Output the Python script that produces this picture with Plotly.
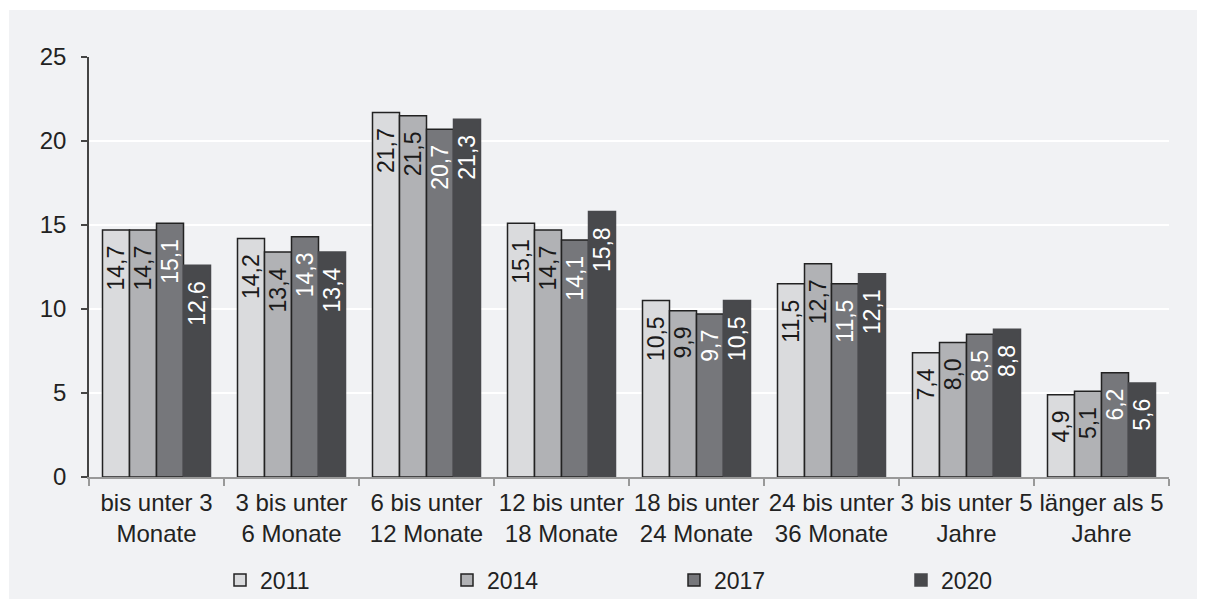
import plotly.graph_objects as go

categories = [
    "bis unter 3<br>Monate",
    "3 bis unter<br>6 Monate",
    "6 bis unter<br>12 Monate",
    "12 bis unter<br>18 Monate",
    "18 bis unter<br>24 Monate",
    "24 bis unter<br>36 Monate",
    "3 bis unter 5<br>Jahre",
    "länger als 5<br>Jahre",
]
years = ["2011", "2014", "2017", "2020"]
v2011 = [14.7, 14.2, 21.7, 15.1, 10.5, 11.5, 7.4, 4.9]
v2014 = [14.7, 13.4, 21.5, 14.7, 9.9, 12.7, 8.0, 5.1]
v2017 = [15.1, 14.3, 20.7, 14.1, 9.7, 11.5, 8.5, 6.2]
v2020 = [12.6, 13.4, 21.3, 15.8, 10.5, 12.1, 8.8, 5.6]
series = [v2011, v2014, v2017, v2020]
y_ticks = [0, 5, 10, 15, 20, 25]

fills = ["#dadbdd", "#b1b2b5", "#76777b", "#48494c"]
text_colors = ["#1a1a1a", "#1a1a1a", "#ffffff", "#ffffff"]
line_colors = ["#222222", "#222222", "#222222", "#48494c"]

FONT = "Liberation Sans, Arial, sans-serif"

# page body adds an 8px offset; figure is sized to fill the rest of the window
W, H = 1197, 591
L, R, T, B = 81, 36, 49, 122
PW, PH = W - L - R, H - T - B

fig = go.Figure()
for name, vals, fc, tc, lc in zip(years, series, fills, text_colors, line_colors):
    fig.add_trace(go.Bar(
        x=categories, y=vals, name=name,
        marker=dict(color=fc, line=dict(color=lc, width=1.5)),
        texttemplate="%{y:.1f}\u00a0\u00a0",
        textposition="inside",
        insidetextanchor="end",
        textangle=-90,
        constraintext="none",
        textfont=dict(family=FONT, size=23, color=tc),
        hoverinfo="skip",
    ))

fig.update_layout(
    width=W, height=H,
    margin=dict(l=L, r=R, t=T, b=B, autoexpand=False),
    paper_bgcolor="#ffffff",
    plot_bgcolor="#f1f2f4",
    separators=",.",
    barmode="group",
    bargap=0.2,
    bargroupgap=0,
    font=dict(family=FONT, size=23, color="#222222"),
    showlegend=True,
    legend=dict(
        orientation="h",
        x=(220 - 89) / PW, xanchor="left",
        y=(469 - 572) / PH, yanchor="middle",
        bgcolor="rgba(0,0,0,0)",
        itemwidth=30,
        entrywidth=182, entrywidthmode="pixels",
        font=dict(family=FONT, size=23, color="#222222"),
        traceorder="normal",
    ),
    shapes=[dict(
        type="rect", xref="paper", yref="paper", layer="below",
        x0=(1 - L) / PW, x1=(W - L + 10) / PW,
        y0=(-B - 10) / PH, y1=(H - B - 2) / PH,
        fillcolor="#f1f2f4", line=dict(width=0),
    )],
)

fig.update_yaxes(
    range=[0, 25], tickvals=y_ticks, ticktext=[str(t) for t in y_ticks],
    showgrid=True, gridcolor="#ffffff", gridwidth=1.5,
    showline=True, linecolor="#444444", linewidth=1.5,
    ticks="outside", ticklen=6, tickcolor="#444444", tickwidth=1.5,
    ticklabelstandoff=10,
    zeroline=False,
    tickfont=dict(family=FONT, size=24, color="#222222"),
)
fig.update_xaxes(
    showline=True, linecolor="#999999", linewidth=1.5,
    ticks="outside", tickson="boundaries", ticklen=7, tickcolor="#999999", tickwidth=1.5,
    showgrid=False,
    ticklabelstandoff=3,
    tickfont=dict(family=FONT, size=24, color="#222222"),
    tickangle=0,
)

fig.write_html("out.html", config={"displayModeBar": False})
